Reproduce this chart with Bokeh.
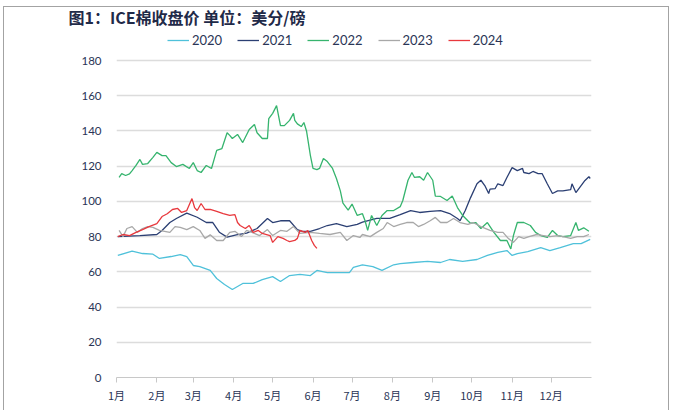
from bokeh.plotting import figure
from bokeh.models import Range1d, FixedTicker, Legend, LegendItem
from bokeh.embed import file_html
from bokeh.resources import INLINE

# day-of-year positions and values (US cents / lb)
d2020 = [1, 12, 20, 28, 33, 42, 49, 54, 59, 64, 72, 77, 83, 89, 97, 105, 112, 120, 126, 133, 141, 149, 154, 162, 169, 179, 182, 189, 197, 204, 213, 218, 228, 239, 249, 256, 266, 277, 285, 293, 300, 304, 308, 316, 326, 333, 341, 351, 357, 364]
v2020 = [69.3, 71.7, 70.4, 70, 67.6, 68.7, 69.8, 68.7, 63.6, 63, 60.8, 56.2, 52.8, 50, 53.4, 53.4, 55.6, 57.3, 54.5, 57.9, 58.5, 57.9, 60.8, 59.6, 59.6, 59.6, 62.5, 64, 63, 60.8, 64, 64.7, 65.3, 65.9, 65.3, 67, 65.9, 67, 69.3, 71, 72.1, 69.3, 70.4, 71.5, 73.8, 72.1, 73.8, 76, 76, 78.4]

d2021 = [1, 18, 31, 35, 41, 46, 54, 62, 69, 74, 79, 85, 92, 100, 108, 116, 120, 126, 133, 139, 143, 149, 156, 162, 169, 177, 185, 189, 200, 210, 218, 226, 233, 241, 249, 256, 262, 264, 268, 272, 277, 280, 283, 286, 287, 291, 293, 297, 300, 304, 308, 312, 313, 317, 320, 324, 327, 331, 335, 339, 343, 349, 350, 353, 357, 360, 363, 364]
v2021 = [80, 80.6, 81.2, 83.5, 88, 90.3, 93.3, 91, 88, 88, 82.5, 79.7, 81, 82, 84.6, 90.3, 88, 89, 89, 84, 82.9, 83, 84.6, 86.3, 87.4, 85.7, 86.9, 88.2, 90.3, 90.3, 92.5, 94.8, 93.7, 94.3, 94.8, 93.1, 90.3, 89, 94.8, 102, 110, 112, 109, 104.5, 107, 107.3, 110, 109, 113.6, 119.2, 117.5, 118.7, 116.4, 115.8, 117, 115.8, 115.8, 110, 104.5, 106, 106, 106.7, 110, 105, 109, 111.9, 114, 113]

d2022 = [2, 4, 7, 10, 12, 15, 18, 20, 24, 28, 31, 35, 38, 42, 46, 51, 56, 59, 62, 65, 69, 73, 77, 81, 85, 87, 89, 93, 97, 102, 106, 108, 112, 116, 117, 120, 123, 126, 129, 133, 136, 137, 139, 142, 144, 146, 149, 151, 154, 156, 159, 162, 166, 169, 172, 174, 178, 181, 185, 189, 191, 193, 196, 200, 204, 208, 213, 218, 220, 224, 227, 229, 233, 236, 239, 243, 245, 249, 254, 258, 262, 266, 270, 272, 276, 280, 285, 290, 295, 300, 303, 305, 308, 313, 318, 322, 326, 331, 335, 339, 343, 349, 353, 355, 359, 363]
v2022 = [113.6, 115.8, 114.7, 115.6, 117.5, 120.4, 123.8, 121, 121.5, 125, 127.8, 126, 126, 122, 119.8, 121, 118.7, 122, 117.5, 116.4, 120.4, 118.7, 129, 130, 139, 137.5, 135.7, 138, 133.4, 140.8, 143.7, 139, 135.7, 135.7, 147, 150, 154.4, 143, 143, 146, 150, 146, 144, 142.5, 144.8, 140, 126, 118.7, 118, 118.7, 124.4, 122.6, 118.7, 113, 106, 99, 95, 98.5, 92, 93, 89, 83.5, 92, 86.3, 92, 94.8, 94.8, 97, 100.5, 112, 116.4, 113.6, 114, 112, 116.4, 112, 103, 102.8, 100.5, 103, 96.5, 92, 89, 87.6, 88, 84.6, 88, 82.4, 77.8, 77.8, 73, 80.6, 88, 88, 86.3, 82.4, 80.6, 79.5, 83.5, 80.6, 80, 80.6, 88, 83.5, 85, 83]

d2023 = [2, 5, 8, 12, 16, 20, 24, 28, 33, 41, 45, 49, 54, 59, 64, 68, 72, 77, 82, 87, 91, 96, 100, 104, 110, 116, 120, 126, 131, 136, 141, 149, 156, 164, 172, 177, 182, 187, 189, 195, 200, 205, 208, 213, 218, 223, 228, 232, 236, 241, 245, 249, 254, 259, 264, 270, 274, 280, 287, 293, 297, 301, 305, 309, 313, 317, 323, 328, 333, 339, 343, 349, 354, 359, 363]
v2023 = [83.5, 80, 84.6, 85.7, 82.4, 84.6, 85.7, 85.2, 83.5, 82.4, 85.7, 85.2, 84, 85.7, 83.5, 79, 81, 77.8, 77.8, 82.4, 83, 80, 83.5, 82.4, 80.6, 84, 80.6, 83.5, 83, 85.7, 81.8, 82.4, 81.8, 81.2, 82.4, 77.8, 80.6, 79.5, 81.2, 80, 82.4, 84.6, 88, 85.7, 86.9, 88, 88, 85.7, 86.9, 89, 90.9, 88, 88, 90.3, 88, 86.9, 88, 85.7, 83.5, 82.4, 82.4, 79, 76.7, 80, 79, 80, 81.2, 80.6, 80, 80.6, 80, 79, 80, 80, 81.2]

d2024 = [1, 5, 10, 15, 20, 25, 31, 35, 39, 43, 47, 50, 54, 58, 60, 62, 65, 68, 72, 77, 82, 87, 91, 93, 95, 99, 102, 105, 109, 112, 118, 120, 124, 128, 131, 133, 137, 139, 141, 145, 147, 150, 152, 154]
v2024 = [80, 81.2, 80.6, 82.4, 84, 85.7, 87.4, 91.4, 93, 95.4, 96, 93.7, 94.8, 101.6, 96.5, 94.8, 98.8, 95.4, 95.4, 94.3, 93, 92, 92.5, 88, 86.3, 84.6, 86.3, 82.4, 83.5, 81.8, 80.6, 76.7, 80, 79, 77.8, 77.2, 77.8, 79, 83.5, 82.4, 83.5, 77.8, 75, 73.3]

series_names = ["2020", "2021", "2022", "2023", "2024"]
series_colors = ["#4FC1DA", "#2B3F73", "#36B46E", "#A8A8A8", "#E8383D"]

month_starts = [0, 31, 59, 90, 120, 151, 181, 212, 243, 273, 304, 334]
month_labels = ["1月", "2月", "3月", "4月", "5月", "6月", "7月", "8月", "9月", "10月", "11月", "12月"]
y_ticks = [0, 20, 40, 60, 80, 100, 120, 140, 160, 180]

TXT = "#2A3556"
CJK = "Noto Sans CJK SC"

# frame spans page y 28..377; the top 32 px hold the legend (180 sits at y=60)
Y_TOP = 180 + 32 * 180 / 317

p = figure(width=673, height=410, x_range=Range1d(0, 365), y_range=Range1d(0, Y_TOP),
           output_backend="svg", toolbar_location=None,
           min_border_left=116, min_border_right=82, min_border_top=28, min_border_bottom=33)
p.outline_line_color = None
p.background_fill_color = "white"
p.border_fill_color = None
# thin grey picture frame (top, left, right) drawn behind the transparent border area
p.styles = {
    "background-color": "white",
    "background-image": ("linear-gradient(#A3A3A3, #A3A3A3), "
                         "linear-gradient(#A3A3A3, #A3A3A3), "
                         "linear-gradient(#A3A3A3, #A3A3A3)"),
    "background-size": "666px 1px, 1px 404px, 1px 404px",
    "background-position": "3px 6px, 3px 6px, 668px 6px",
    "background-repeat": "no-repeat",
}

p.title.text = "图1：ICE棉收盘价 单位：美分/磅"
p.title.text_font = CJK
p.title.text_font_size = "16px"
p.title.text_font_style = "bold"
p.title.text_color = "#1F2A48"
p.title.align = "left"
p.title.offset = -48
p.title.standoff = 0

p.xgrid.grid_line_color = None
p.ygrid.grid_line_color = "#DCDCDC"
p.ygrid.grid_line_width = 1.3

p.xaxis.ticker = FixedTicker(ticks=month_starts)
p.xaxis.major_label_overrides = {m: l for m, l in zip(month_starts, month_labels)}
p.xaxis.axis_line_color = "#C8C8C8"
p.xaxis.major_tick_line_color = "#C8C8C8"
p.xaxis.major_tick_out = 5
p.xaxis.major_tick_in = 0
p.xaxis.minor_tick_line_color = None
p.xaxis.major_label_text_font = CJK
p.xaxis.major_label_text_font_size = "11px"
p.xaxis.major_label_text_color = TXT
p.xaxis.major_label_standoff = 4

p.yaxis.ticker = FixedTicker(ticks=y_ticks)
p.yaxis.axis_line_color = None
p.yaxis.major_tick_line_color = None
p.yaxis.minor_tick_line_color = None
p.yaxis.major_label_text_font = "Lato"
p.yaxis.major_label_text_font_size = "11.5px"
p.yaxis.major_label_text_color = TXT
p.yaxis.major_label_standoff = 9

xs = [d2020, d2021, d2022, d2023, d2024]
ys = [v2020, v2021, v2022, v2023, v2024]
items = []
for name, color, x, y in zip(series_names, series_colors, xs, ys):
    r = p.line(x, y, line_color=color, line_width=1.3)
    items.append(LegendItem(label=name, renderers=[r]))

legend = Legend(items=items, orientation="horizontal", location=(51, 329),
                glyph_width=22, glyph_height=12, label_standoff=3, spacing=15,
                padding=0, margin=0, border_line_color=None,
                label_text_font="Lato", label_text_font_size="13px", label_text_color=TXT,
                background_fill_alpha=0)
p.add_layout(legend)

open("out.html", "w").write(file_html(p, INLINE))
